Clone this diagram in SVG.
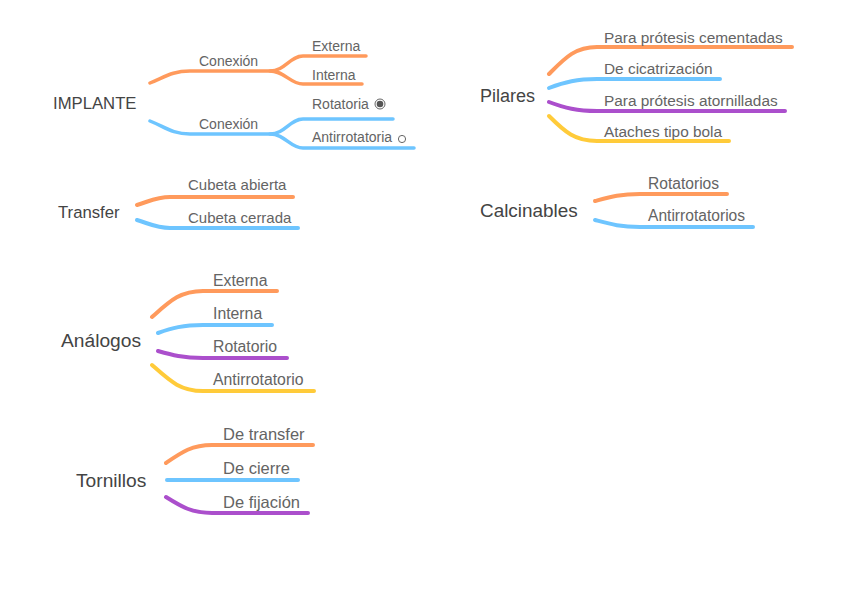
<svg xmlns="http://www.w3.org/2000/svg" width="848" height="600" viewBox="0 0 848 600">
<style>
.bg{fill:#ffffff}
.root{font-family:"Liberation Sans",Arial,Helvetica,sans-serif;fill:#444444}
.lbl{font-family:"Liberation Sans",Arial,Helvetica,sans-serif;fill:#646464}
.ln{fill:none;stroke-linecap:round;stroke-linejoin:round;stroke-width:4}
.thin{stroke-width:3.5}
.o{stroke:#ff9a5c}
.b{stroke:#6ec5ff}
.p{stroke:#ab4fcc}
.y{stroke:#ffcb3a}
</style>
<rect class="bg" x="0" y="0" width="848" height="600"/>
<g id="connectors">
  <path class="ln thin o" d="M150,83 C165,77 172,71 190,71 L270,71 C285,71 290,56 303,56 L366,56"/>
  <path class="ln thin o" d="M270,71 C285,71 290,84 303,84 L362,84"/>
  <path class="ln thin b" d="M150,121 C165,127 172,134 190,134 L270,134 C285,134 290,119 303,119 L393,119"/>
  <path class="ln thin b" d="M270,134 C285,134 290,148 303,148 L414,148"/>
  <path class="ln o" d="M549,74 C565,58 575,47 597,47 L792,47"/>
  <path class="ln b" d="M549,88 C565,82 577,79 597,79 L720,79"/>
  <path class="ln p" d="M549,102 C565,108 577,111 597,111 L785,111"/>
  <path class="ln y" d="M549,116 C565,132 575,141 597,141 L729,141"/>
  <path class="ln o" d="M137,205 C150,201 157,197 170,197 L293,197"/>
  <path class="ln b" d="M137,220 C150,224 157,228 170,228 L298,228"/>
  <path class="ln o" d="M595,201 C610,197 620,194 640,194 L727,194"/>
  <path class="ln b" d="M595,220 C610,224 620,227 640,227 L753,227"/>
  <path class="ln o" d="M152,317 C170,301 180,291 203,291 L277,291"/>
  <path class="ln b" d="M158,333 C172,328 183,325 203,325 L272,325"/>
  <path class="ln p" d="M158,351 C172,355 183,358 203,358 L287,358"/>
  <path class="ln y" d="M152,365 C170,381 180,391 203,391 L314,391"/>
  <path class="ln o" d="M166,463 C182,452 192,445 212,445 L313,445"/>
  <path class="ln b" d="M167,480 L298,480"/>
  <path class="ln p" d="M166,497 C182,507 192,513 212,513 L308,513"/>
</g>
<g id="implante"><text class="root" x="53" y="109" font-size="16.7">IMPLANTE</text></g>
<g id="implante-conexion-1"><text class="lbl" x="199" y="66" font-size="14">Conexión</text></g>
<g id="implante-externa"><text class="lbl" x="312" y="51" font-size="14">Externa</text></g>
<g id="implante-interna"><text class="lbl" x="312" y="80" font-size="14">Interna</text></g>
<g id="implante-conexion-2"><text class="lbl" x="199" y="129" font-size="14">Conexión</text></g>
<g id="implante-rotatoria"><text class="lbl" x="312" y="109" font-size="14">Rotatoria</text>
  <circle cx="380" cy="104" r="5" fill="none" stroke="#666" stroke-width="1"/>
  <circle cx="380" cy="104" r="3.3" fill="#555"/>
</g>
<g id="implante-antirrotatoria"><text class="lbl" x="312" y="142" font-size="14">Antirrotatoria</text>
  <circle cx="402" cy="139" r="3.6" fill="none" stroke="#666" stroke-width="1"/>
</g>

<g id="pilares"><text class="root" x="480" y="102" font-size="18">Pilares</text></g>
<g id="pilares-cementadas"><text class="lbl" x="604" y="43" font-size="15.4">Para prótesis cementadas</text></g>
<g id="pilares-cicatrizacion"><text class="lbl" x="604" y="74" font-size="15.4">De cicatrización</text></g>
<g id="pilares-atornilladas"><text class="lbl" x="604" y="106" font-size="15.4">Para prótesis atornilladas</text></g>
<g id="pilares-ataches"><text class="lbl" x="604" y="137" font-size="15.4">Ataches tipo bola</text></g>

<g id="transfer"><text class="root" x="58" y="218" font-size="16.7">Transfer</text></g>
<g id="transfer-abierta"><text class="lbl" x="188" y="190" font-size="15">Cubeta abierta</text></g>
<g id="transfer-cerrada"><text class="lbl" x="188" y="223" font-size="15">Cubeta cerrada</text></g>

<g id="calcinables"><text class="root" x="480" y="217" font-size="18.9">Calcinables</text></g>
<g id="calcinables-rotatorios"><text class="lbl" x="648" y="189" font-size="15.6">Rotatorios</text></g>
<g id="calcinables-antirrotatorios"><text class="lbl" x="648" y="221" font-size="15.6">Antirrotatorios</text></g>

<g id="analogos"><text class="root" x="61" y="347" font-size="19.2">Análogos</text></g>
<g id="analogos-externa"><text class="lbl" x="213" y="286" font-size="15.8">Externa</text></g>
<g id="analogos-interna"><text class="lbl" x="213" y="319" font-size="15.8">Interna</text></g>
<g id="analogos-rotatorio"><text class="lbl" x="213" y="352" font-size="15.8">Rotatorio</text></g>
<g id="analogos-antirrotatorio"><text class="lbl" x="213" y="385" font-size="15.8">Antirrotatorio</text></g>

<g id="tornillos"><text class="root" x="76" y="487" font-size="19.2">Tornillos</text></g>
<g id="tornillos-transfer"><text class="lbl" x="223" y="440" font-size="16.5">De transfer</text></g>
<g id="tornillos-cierre"><text class="lbl" x="223" y="474" font-size="16.5">De cierre</text></g>
<g id="tornillos-fijacion"><text class="lbl" x="223" y="508" font-size="16.5">De fijación</text></g>
</svg>
